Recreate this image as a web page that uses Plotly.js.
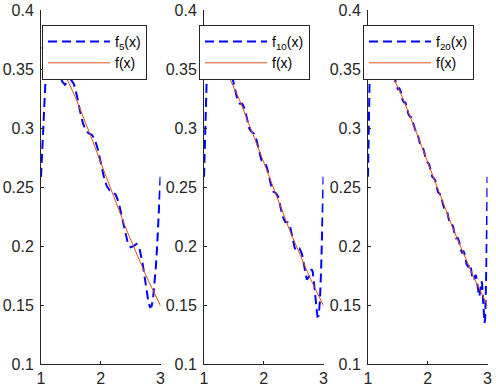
<!DOCTYPE html>
<html><head><meta charset="utf-8">
<script src="https://cdn.plot.ly/plotly-3.0.1.min.js"></script>
<style>html,body{margin:0;padding:0;background:#fff}#chart{width:496px;height:388px}</style>
</head><body><div id="chart"></div>
<script>
// exact function f(x)
const xF = [1,1.05,1.1,1.15,1.2,1.25,1.3,1.35,1.4,1.45,1.5,1.55,1.6,1.65,1.7,1.75,1.8,1.85,1.9,1.95,2,2.05,2.1,2.15,2.2,2.25,2.3,2.35,2.4,2.45,2.5,2.55,2.6,2.65,2.7,2.75,2.8,2.85,2.9,2.95,3];
const yF = [0.3679,0.3674,0.3662,0.3641,0.3614,0.3581,0.3543,0.3500,0.3452,0.3401,0.3347,0.3290,0.3230,0.3169,0.3106,0.3041,0.2975,0.2909,0.2842,0.2774,0.2707,0.2639,0.2572,0.2504,0.2438,0.2372,0.2306,0.2241,0.2177,0.2114,0.2052,0.1991,0.1931,0.1872,0.1815,0.1758,0.1703,0.1648,0.1596,0.1544,0.1494];

// partial sum f5
const x5 = [1,1.025,1.05,1.075,1.1,1.125,1.15,1.175,1.2,1.25,1.3,1.35,1.4,1.45,1.5,1.55,1.6,1.65,1.7,1.75,1.8,1.85,1.9,1.95,2,2.05,2.1,2.15,2.2,2.25,2.3,2.35,2.4,2.45,2.5,2.55,2.6,2.65,2.7,2.75,2.8,2.825,2.85,2.875,2.9,2.925,2.95,2.975,3];
const y5 = [0.2586,0.2883,0.3158,0.3398,0.3589,0.3723,0.3800,0.3823,0.3799,0.3666,0.3505,0.3397,0.3366,0.3393,0.3410,0.3373,0.3276,0.3152,0.3043,0.2978,0.2954,0.2943,0.2905,0.2822,0.2707,0.2591,0.2509,0.2470,0.2459,0.2435,0.2369,0.2258,0.2131,0.2031,0.1989,0.1999,0.2017,0.1975,0.1853,0.1673,0.1518,0.1482,0.1489,0.1551,0.1669,0.1841,0.2060,0.2314,0.2586];

// partial sum f10
const x10 = [1,1.02,1.04,1.06,1.08,1.1,1.12,1.14,1.16,1.18,1.2,1.22,1.24,1.28,1.32,1.36,1.4,1.44,1.48,1.52,1.56,1.6,1.64,1.68,1.72,1.76,1.8,1.84,1.88,1.92,1.96,2,2.04,2.08,2.12,2.16,2.2,2.24,2.28,2.32,2.36,2.4,2.44,2.48,2.52,2.56,2.6,2.64,2.68,2.72,2.76,2.78,2.8,2.82,2.84,2.86,2.88,2.9,2.92,2.94,2.96,2.98,3];
const y10 = [0.2586,0.3033,0.3417,0.3689,0.3833,0.3855,0.3790,0.3686,0.3587,0.3527,0.3513,0.3544,0.3594,0.3635,0.3555,0.3443,0.3407,0.3431,0.3417,0.3330,0.3238,0.3206,0.3206,0.3165,0.3073,0.2993,0.2965,0.2951,0.2893,0.2799,0.2729,0.2707,0.2685,0.2615,0.2520,0.2462,0.2449,0.2420,0.2339,0.2246,0.2203,0.2201,0.2167,0.2071,0.1980,0.1960,0.1977,0.1932,0.1808,0.1716,0.1741,0.1783,0.1804,0.1780,0.1708,0.1598,0.1481,0.1403,0.1410,0.1537,0.1793,0.2159,0.2586];

// partial sum f20
const x20 = [1,1.01,1.02,1.03,1.04,1.05,1.06,1.07,1.08,1.09,1.1,1.11,1.12,1.13,1.14,1.15,1.16,1.17,1.18,1.19,1.2,
  1.225,1.25,1.275,1.3,1.325,1.35,1.375,1.4,1.425,1.45,1.475,1.5,1.525,1.55,1.575,1.6,1.625,1.65,1.675,1.7,1.725,1.75,1.775,1.8,1.825,1.85,1.875,1.9,1.925,1.95,1.975,2,
  2.025,2.05,2.075,2.1,2.125,2.15,2.175,2.2,2.225,2.25,2.275,2.3,2.325,2.35,2.375,2.4,2.425,2.45,2.475,2.5,2.525,2.55,2.575,2.6,2.625,2.65,2.675,2.7,2.725,2.75,2.775,
  2.8,2.81,2.82,2.83,2.84,2.85,2.86,2.87,2.88,2.89,2.9,2.91,2.92,2.93,2.94,2.95,2.96,2.97,2.98,2.99,3];
const y20 = [0.2586,0.3024,0.3403,0.3679,0.3832,0.3869,0.3819,0.3727,0.3634,0.3573,0.3557,0.3583,0.3632,0.3683,0.3712,0.3713,0.3684,0.3640,0.3597,0.3568,0.3561,
  0.3616,0.3622,0.3546,0.3510,0.3539,0.3528,0.3460,0.3429,0.3444,0.3421,0.3358,0.3330,0.3336,0.3304,0.3243,0.3218,0.3217,0.3179,0.3120,0.3097,0.3090,0.3048,0.2991,0.2969,0.2959,0.2913,0.2859,0.2839,0.2825,0.2775,0.2724,0.2707,
  0.2690,0.2638,0.2588,0.2575,0.2555,0.2500,0.2454,0.2444,0.2421,0.2365,0.2322,0.2315,0.2291,0.2231,0.2192,0.2189,0.2163,0.2100,0.2066,0.2069,0.2038,0.1971,0.1944,0.1954,0.1918,0.1844,0.1826,0.1848,0.1803,0.1717,0.1713,
  0.1756,0.1744,0.1710,0.1661,0.1611,0.1576,0.1572,0.1594,0.1639,0.1681,0.1701,0.1677,0.1609,0.1508,0.1407,0.1349,0.1378,0.1522,0.1789,0.2159,0.2586];

const approxNames = ['f<sub>5</sub>(x)','f<sub>10</sub>(x)','f<sub>20</sub>(x)'];
const exactName = 'f(x)';
const xTickVals = [1,2,3];
const xTickText = ['1','2','3'];
const yTickVals = [0.1,0.15,0.2,0.25,0.3,0.35,0.4];
const yTickText = ['0.1','0.15','0.2','0.25','0.3','0.35','0.4'];

const approxX = [x5, x10, x20];
const approxY = [y5, y10, y20];

const W = 496, H = 388;
const M = {l:0, r:0, t:10, b:24};
const axL = [41, 204, 368];
const axW = 119.5;
const legL = [42, 199, 363];
const legTop = 25;

const traces = [];
const layout = {
  width: W, height: H,
  margin: M,
  paper_bgcolor: '#ffffff', plot_bgcolor: '#ffffff',
  font: {family: 'Liberation Sans, Arial, Helvetica, sans-serif', size: 16, color: '#262626'},
  showlegend: true
};

for (let i = 0; i < 3; i++) {
  const sx = i === 0 ? '' : String(i + 1);
  const lg = i === 0 ? 'legend' : 'legend' + (i + 1);
  traces.push({
    x: approxX[i], y: approxY[i], xaxis: 'x' + sx, yaxis: 'y' + sx, legend: lg,
    type: 'scatter', mode: 'lines', name: approxNames[i],
    line: {color: '#0000ff', width: 2, dash: '9px,5px'}
  });
  traces.push({
    x: xF, y: yF, xaxis: 'x' + sx, yaxis: 'y' + sx, legend: lg,
    type: 'scatter', mode: 'lines', name: exactName,
    line: {color: '#d95319', width: 1}
  });
  const common = {
    showline: true, linecolor: '#262626', linewidth: 1,
    ticks: 'inside', ticklen: 3, tickcolor: '#262626', tickwidth: 1,
    showgrid: false, zeroline: false,
    tickfont: {size: 16, color: '#262626'}
  };
  layout['xaxis' + sx] = Object.assign({}, common, {
    domain: [axL[i] / W, (axL[i] + axW) / W], anchor: 'y' + sx,
    range: [1, 3], tickmode: 'array', tickvals: xTickVals, ticktext: xTickText
  });
  layout['yaxis' + sx] = Object.assign({}, common, {
    domain: [0, 1], anchor: 'x' + sx,
    range: [0.1, 0.4], tickmode: 'array', tickvals: yTickVals, ticktext: yTickText,
    ticklabelstandoff: 3
  });
  const plotH = H - M.t - M.b;
  layout[lg] = {
    x: legL[i] / W, y: 1 - (legTop - M.t) / plotH,
    xanchor: 'left', yanchor: 'top',
    bgcolor: '#ffffff', bordercolor: '#262626', borderwidth: 1,
    font: {size: 14, color: '#000000'},
    itemwidth: 62, tracegroupgap: 0
  };
}

Plotly.newPlot('chart', traces, layout, {staticPlot: true, displayModeBar: false});
</script>
</body></html>
